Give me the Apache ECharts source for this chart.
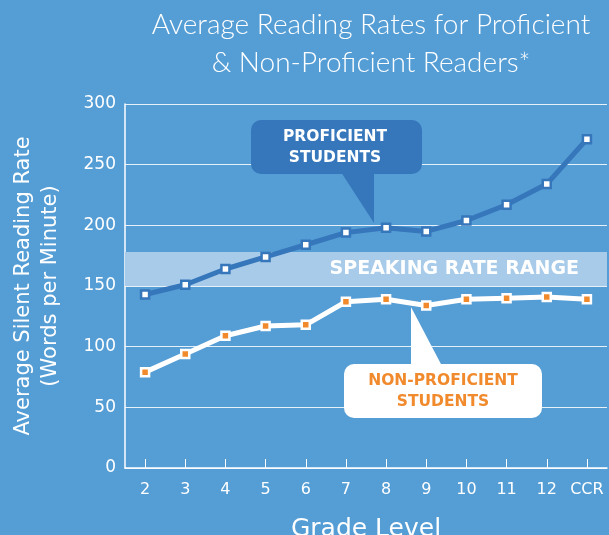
<!DOCTYPE html>
<html>
<head>
<meta charset="utf-8">
<script src="https://cdn.jsdelivr.net/npm/echarts@6/dist/echarts.min.js"></script>
<style>
  html, body { margin: 0; padding: 0; background: #549dd5; }
  #chart { width: 609px; height: 535px; }
</style>
</head>
<body>
<div id="chart"></div>
<script>
var grades = ['2', '3', '4', '5', '6', '7', '8', '9', '10', '11', '12', 'CCR'];
var proficient = [143, 151, 164, 174, 184, 194, 198, 195, 204, 217, 234, 271];
var nonProficient = [79, 94, 109, 117, 118, 137, 139, 134, 139, 140, 141, 139];
var speakingRange = [150, 178];
var yTicks = [0, 50, 100, 150, 200, 250, 300];

var chart = echarts.init(document.getElementById('chart'));

var font = 'DejaVu Sans';

var option = {
    backgroundColor: '#549dd5',
    animation: false,
    title: {
        text: 'Average Reading Rates for Proficient\n& Non-Proficient Readers*',
        left: 366,
        top: 1,
        textAlign: 'center',
        textStyle: {
            color: '#ffffff',
            fontFamily: 'Lato',
            fontWeight: 300,
            fontSize: 28,
            lineHeight: 38
        }
    },
    grid: {
        left: 125,
        right: 2,
        top: 104,
        bottom: 67,
        outerBoundsMode: 'none',
        containLabel: false
    },
    xAxis: {
        type: 'category',
        data: grades,
        boundaryGap: true,
        name: 'Grade Level',
        nameLocation: 'middle',
        nameGap: 49,
        nameTextStyle: { color: '#ffffff', fontFamily: font, fontSize: 25 },
        axisLine: { lineStyle: { color: '#ffffff', width: 1.5 } },
        axisTick: { show: true, interval: 0, alignWithLabel: true, inside: true, length: 9, lineStyle: { color: '#ffffff', width: 1 } },
        axisLabel: { color: '#ffffff', fontFamily: font, fontSize: 16, margin: 14, interval: 0, hideOverlap: false },
        splitLine: { show: false }
    },
    yAxis: {
        type: 'value',
        min: 0,
        max: 300,
        interval: 50,
        name: 'Average Silent Reading Rate\n(Words per Minute)',
        nameLocation: 'middle',
        nameGap: 61,
        nameTextStyle: { color: '#ffffff', fontFamily: font, fontSize: 21, lineHeight: 27 },
        axisLine: { show: true, lineStyle: { color: '#ffffff', width: 1.5 } },
        axisTick: { show: false },
        axisLabel: {
            color: '#ffffff', fontFamily: font, fontSize: 17, margin: 9,
            formatter: function (v) { return yTicks.indexOf(v) >= 0 ? String(v) : ''; }
        },
        splitLine: { show: true, lineStyle: { color: '#ffffff', width: 1, opacity: 0.85 } }
    },
    series: [
        {
            name: 'Non-Proficient',
            type: 'line',
            data: nonProficient,
            symbol: 'rect',
            symbolSize: 8,
            z: 3,
            lineStyle: { color: '#ffffff', width: 5 },
            itemStyle: { color: '#f08a2c', borderColor: '#ffffff', borderWidth: 2.5 },
            markArea: {
                silent: true,
                itemStyle: { color: '#a7cbe8' },
                label: {
                    show: true,
                    position: 'insideRight',
                    distance: 28,
                    color: '#ffffff',
                    fontFamily: font,
                    fontSize: 19,
                    fontWeight: 'bold'
                },
                data: [[
                    { yAxis: speakingRange[0], name: 'SPEAKING RATE RANGE' },
                    { yAxis: speakingRange[1] }
                ]]
            }
        },
        {
            name: 'Proficient',
            type: 'line',
            data: proficient,
            symbol: 'rect',
            symbolSize: 8,
            z: 4,
            lineStyle: { color: '#3676bb', width: 5 },
            itemStyle: { color: '#ffffff', borderColor: '#3676bb', borderWidth: 2.5 }
        }
    ],
    graphic: [
        {
            type: 'rect',
            shape: { x: 251, y: 120, width: 171, height: 54, r: 10 },
            style: { fill: '#3676bb' },
            z: 10
        },
        {
            type: 'polygon',
            shape: { points: [[341, 172], [374, 172], [374, 223]] },
            style: { fill: '#3676bb' },
            z: 10
        },
        {
            type: 'text',
            x: 335,
            y: 126,
            style: {
                text: 'PROFICIENT\nSTUDENTS',
                fill: '#ffffff',
                font: 'bold 15.5px "DejaVu Sans"',
                lineHeight: 21,
                align: 'center'
            },
            z: 11
        },
        {
            type: 'rect',
            shape: { x: 344, y: 364, width: 198, height: 54, r: 10 },
            style: { fill: '#ffffff' },
            z: 10
        },
        {
            type: 'polygon',
            shape: { points: [[411, 366], [411, 307], [442, 366]] },
            style: { fill: '#ffffff' },
            z: 10
        },
        {
            type: 'text',
            x: 443,
            y: 370,
            style: {
                text: 'NON-PROFICIENT\nSTUDENTS',
                fill: '#f08a2c',
                font: 'bold 15.5px "DejaVu Sans"',
                lineHeight: 21,
                align: 'center'
            },
            z: 11
        }
    ]
};

chart.setOption(option);
</script>
</body>
</html>
